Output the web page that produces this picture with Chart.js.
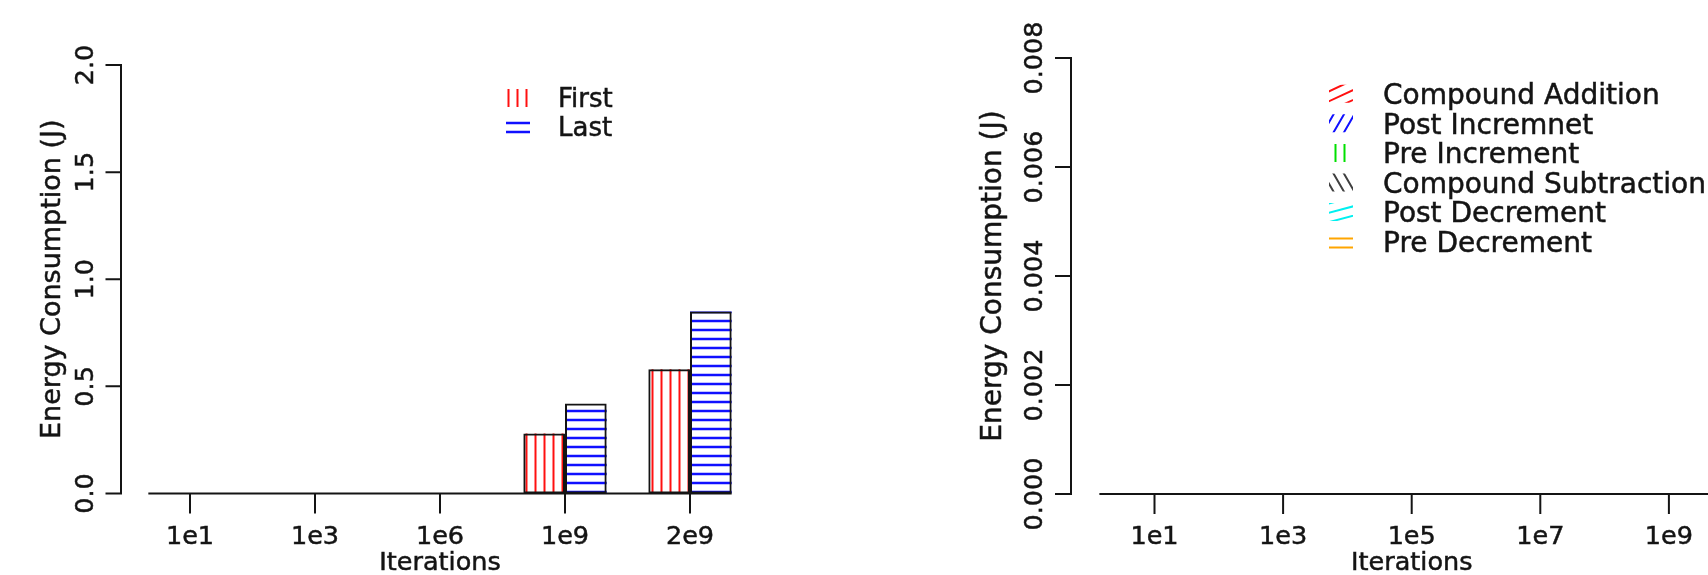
<!DOCTYPE html>
<html>
<head>
<meta charset="utf-8">
<script src="https://cdn.jsdelivr.net/npm/chart.js@4.4.1/dist/chart.umd.min.js"></script>
<style>
  html, body { margin: 0; padding: 0; background: #ffffff; overflow: hidden; }
  #wrap { position: relative; width: 1708px; height: 575px; overflow: hidden; background: #ffffff; filter: blur(0.45px); }
  #wrap canvas { position: absolute; top: 0; }
  #energyFirstLast { left: 0; }
  #energyOperators { left: 854px; }
</style>
</head>
<body>
<div id="wrap">
  <canvas id="energyFirstLast" width="854" height="575"></canvas>
  <canvas id="energyOperators" width="1000" height="575"></canvas>
</div>
<script>
// ---- data: loop position comparison ----
const loopIterations = ['1e1', '1e3', '1e6', '1e9', '2e9'];
const firstEnergy = [0, 0, 0, 0.28, 0.58];
const lastEnergy = [0, 0, 0, 0.42, 0.85];
const loopYTicks = [0, 0.5, 1, 1.5, 2];
const loopYTickLabels = ['0.0', '0.5', '1.0', '1.5', '2.0'];

// ---- data: increment / decrement operators ----
const operatorIterations = ['1e1', '1e3', '1e5', '1e7', '1e9'];
const compoundAddition = [0, 0, 0, 0, 0];
const postIncrement = [0, 0, 0, 0, 0];
const preIncrement = [0, 0, 0, 0, 0];
const compoundSubtraction = [0, 0, 0, 0, 0];
const postDecrement = [0, 0, 0, 0, 0];
const preDecrement = [0, 0, 0, 0, 0];
const operatorNames = ['Compound Addition', 'Post Incremnet', 'Pre Increment',
                       'Compound Subtraction', 'Post Decrement', 'Pre Decrement'];
const operatorYTicks = [0, 0.002, 0.004, 0.006, 0.008];
const operatorYTickLabels = ['0.000', '0.002', '0.004', '0.006', '0.008'];

const FONT = "'DejaVu Sans', 'Liberation Sans', sans-serif";
const INK = '#141414';

// Fill a rectangle with parallel shading lines (density/angle hatching).
function hatchRect(ctx, x, y, w, h, angle, spacing, offset, color, lw) {
  const t = angle * Math.PI / 180;
  const dx = Math.cos(t), dy = -Math.sin(t);
  const nx = -dy, ny = dx;
  const proj = [[x, y], [x + w, y], [x, y + h], [x + w, y + h]].map(p => p[0] * nx + p[1] * ny);
  const lo = Math.min(...proj), hi = Math.max(...proj);
  const len = Math.hypot(w, h) + 4;
  const mx = x + w / 2, my = y + h / 2;
  ctx.save();
  ctx.beginPath();
  ctx.rect(x, y, w, h);
  ctx.clip();
  ctx.strokeStyle = color;
  ctx.lineWidth = lw;
  ctx.beginPath();
  for (let k = Math.ceil((lo - offset) / spacing); k * spacing + offset <= hi; k++) {
    const d = k * spacing + offset;
    const cx = nx * d, cy = ny * d;
    const tt = (mx - cx) * dx + (my - cy) * dy;
    const px = cx + dx * tt, py = cy + dy * tt;
    ctx.moveTo(px - dx * len, py - dy * len);
    ctx.lineTo(px + dx * len, py + dy * len);
  }
  ctx.stroke();
  ctx.restore();
}

function drawText(ctx, str, x, y, size, align, rotate) {
  ctx.save();
  ctx.translate(x, y);
  if (rotate) ctx.rotate(rotate);
  ctx.font = size + 'px ' + FONT;
  ctx.fillStyle = INK;
  ctx.strokeStyle = INK;
  ctx.lineWidth = 0.5;
  ctx.textAlign = align || 'center';
  ctx.textBaseline = 'alphabetic';
  ctx.fillText(str, 0, 0);
  ctx.strokeText(str, 0, 0);
  ctx.restore();
}

// Base-graphics look: hatched bars, detached axes, rotated tick labels, frameless legend.
const baseGraphics = {
  id: 'baseGraphics',
  beforeDatasetsDraw(chart, args, o) {
    const ctx = chart.ctx;
    chart.data.datasets.forEach((ds, i) => {
      chart.getDatasetMeta(i).data.forEach(bar => {
        const { x, y, base, width } = bar.getProps(['x', 'y', 'base', 'width'], true);
        const top = Math.min(y, base), h = Math.abs(base - y);
        if (h < 0.5) return;
        hatchRect(ctx, x - width / 2, top, width, h, ds.hatchAngle, o.hatchSpacing,
                  ds.hatchOffset, ds.hatchColor, ds.hatchWidth);
      });
    });
  },
  afterDatasetsDraw(chart, args, o) {
    const ctx = chart.ctx;
    const xs = chart.scales.x, ys = chart.scales.y, area = chart.chartArea;
    ctx.save();
    ctx.strokeStyle = INK;
    ctx.lineWidth = o.lineWidth;

    // y axis: line from first to last tick, ticks pointing outwards
    const ax = area.left + o.yAxisShift;
    const yFirst = ys.getPixelForValue(o.yTicks[0]);
    const yLast = ys.getPixelForValue(o.yTicks[o.yTicks.length - 1]);
    ctx.beginPath();
    ctx.moveTo(ax, yFirst + o.lineWidth / 2);
    ctx.lineTo(ax, yLast - o.lineWidth / 2);
    o.yTicks.forEach(v => {
      const py = ys.getPixelForValue(v);
      ctx.moveTo(ax, py);
      ctx.lineTo(ax - o.tickLength, py);
    });
    ctx.stroke();
    o.yTicks.forEach((v, i) => {
      drawText(ctx, o.yTickLabels[i], ax - o.yLabelGap, ys.getPixelForValue(v), o.tickFont, 'center', -Math.PI / 2);
    });
    drawText(ctx, o.yTitle, ax - o.yTitleGap, (area.top + area.bottom) / 2, o.titleFont, 'center', -Math.PI / 2);

    // zero line across the bar groups
    const y0 = ys.getPixelForValue(0);
    const firstMeta = chart.getDatasetMeta(0);
    const lastMeta = chart.getDatasetMeta(chart.data.datasets.length - 1);
    const b0 = firstMeta.data[0], bN = lastMeta.data[lastMeta.data.length - 1];
    ctx.beginPath();
    ctx.moveTo(b0.x - b0.width / 2, y0);
    ctx.lineTo(bN.x + bN.width / 2, y0);
    // category ticks
    chart.data.labels.forEach((lab, i) => {
      const px = xs.getPixelForValue(i);
      ctx.moveTo(px, y0);
      ctx.lineTo(px, y0 + o.xTickLength);
    });
    ctx.stroke();
    chart.data.labels.forEach((lab, i) => {
      drawText(ctx, lab, xs.getPixelForValue(i), o.xLabelBaseline, o.tickFont, 'center', 0);
    });
    drawText(ctx, o.xTitle, (area.left + area.right) / 2, o.xTitleBaseline, o.tickFont, 'center', 0);

    // legend: hatched key boxes and labels
    const lg = o.legend;
    chart.data.datasets.forEach((ds, i) => {
      const cy = lg.top + i * lg.rowStep;
      hatchRect(ctx, lg.boxX, cy - lg.boxH / 2, lg.boxW, lg.boxH, ds.hatchAngle, o.hatchSpacing,
                ds.hatchOffset, ds.hatchColor, ds.hatchWidth);
      drawText(ctx, ds.label, lg.textX, cy + lg.font * 0.365, lg.font, 'left', 0);
    });
    ctx.restore();
  }
};

function barDataset(label, data, color, angle, offset, width) {
  return {
    label, data,
    backgroundColor: 'rgba(0,0,0,0)',
    borderColor: INK,
    borderWidth: 2,
    borderSkipped: false,
    hatchColor: color, hatchAngle: angle, hatchOffset: offset, hatchWidth: width
  };
}

function baseOptions(padding, yMin, yMax, catPct, pluginOpts) {
  return {
    responsive: false,
    animation: false,
    devicePixelRatio: 1,
    layout: { padding },
    datasets: { bar: { categoryPercentage: catPct, barPercentage: 1 } },
    scales: {
      x: { type: 'category', display: false, offset: true },
      y: { type: 'linear', display: false, min: yMin, max: yMax }
    },
    plugins: {
      legend: { display: false },
      tooltip: { enabled: false },
      baseGraphics: pluginOpts
    }
  };
}

new Chart(document.getElementById('energyFirstLast'), {
  type: 'bar',
  data: {
    labels: loopIterations,
    datasets: [
      barDataset('First', firstEnergy, '#ff1010', 90, 4.5, 2),
      barDataset('Last', lastEnergy, '#1010ff', 0, 6, 2.3)
    ]
  },
  options: baseOptions(
    { left: 127.5, right: 101.5, top: 47.9, bottom: 64.4 },
    -0.08, 2.08, 2 / 3,
    {
      yTicks: loopYTicks, yTickLabels: loopYTickLabels,
      yTitle: 'Energy Consumption (J)', xTitle: 'Iterations',
      lineWidth: 2, hatchSpacing: 9,
      yAxisShift: -6.5, tickLength: 15.5, yLabelGap: 27.7, yTitleGap: 61.3,
      xTickLength: 20, xLabelBaseline: 543.5, xTitleBaseline: 570,
      tickFont: 25.5, titleFont: 27,
      legend: { boxX: 506, boxW: 24, boxH: 18, textX: 558, top: 98, rowStep: 28.5, font: 26 }
    }
  ),
  plugins: [baseGraphics]
});

const operatorColors = ['#ff1010', '#1010ff', '#00e000', '#404040', '#00f0f0', '#ffa500'];
const operatorAngles = [25, 60, 90, 120, 15, 180];
const operatorSeries = [compoundAddition, postIncrement, preIncrement,
                        compoundSubtraction, postDecrement, preDecrement];

new Chart(document.getElementById('energyOperators'), {
  type: 'bar',
  data: {
    labels: operatorIterations,
    datasets: operatorSeries.map((s, i) =>
      barDataset(operatorNames[i], s, operatorColors[i], operatorAngles[i], 4.5, 2))
  },
  options: baseOptions(
    { left: 236.2, right: 120.8, top: 40.6, bottom: 63.6 },
    -0.00032, 0.00832, 6 / 7,
    {
      yTicks: operatorYTicks, yTickLabels: operatorYTickLabels,
      yTitle: 'Energy Consumption (J)', xTitle: 'Iterations',
      lineWidth: 2, hatchSpacing: 9,
      yAxisShift: -19.2, tickLength: 16, yLabelGap: 29, yTitleGap: 70.4,
      xTickLength: 20, xLabelBaseline: 543.5, xTitleBaseline: 570,
      tickFont: 25.5, titleFont: 28,
      legend: { boxX: 475, boxW: 24, boxH: 18, textX: 529, top: 93.7, rowStep: 29.6, font: 28 }
    }
  ),
  plugins: [baseGraphics]
});
</script>
</body>
</html>
